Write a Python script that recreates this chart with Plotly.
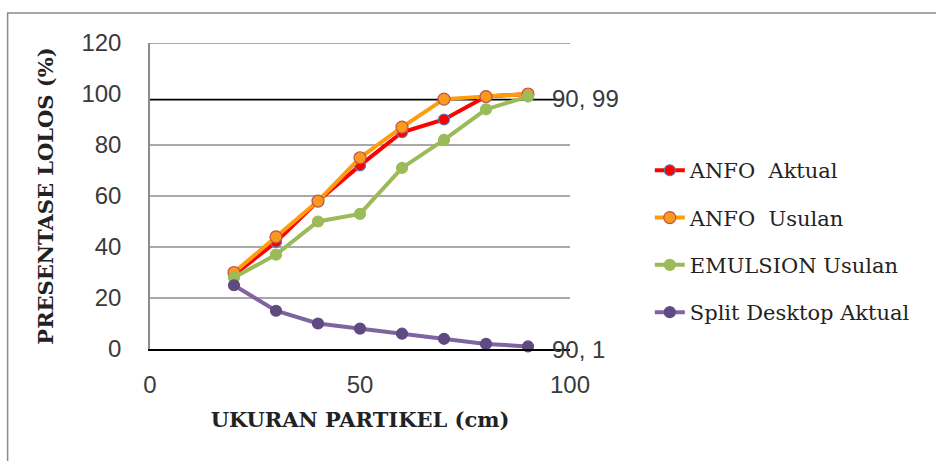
import plotly.graph_objects as go

# Particle size (cm) and cumulative percent passing for each blast design
ukuran = [20, 30, 40, 50, 60, 70, 80, 90]
anfo_aktual = [29, 42, 58, 72, 85, 90, 99, 100]
anfo_usulan = [30, 44, 58, 75, 87, 98, 99, 100]
emulsion_usulan = [28, 37, 50, 53, 71, 82, 94, 99]
split_desktop_aktual = [25, 15, 10, 8, 6, 4, 2, 1]

y_ticks = [0, 20, 40, 60, 80, 100, 120]
x_ticks = [0, 50, 100]
grid_levels = [20, 40, 60, 80, 120]
ref_level_top = 97.8

tick_font = dict(family="Liberation Sans", size=24, color="#3a3a3a")
serif = "DejaVu Serif"

fig = go.Figure()

series = [
    ("ANFO  Aktual", anfo_aktual, "#ff0000", "#ff0000", "#4f81bd", 11),
    ("ANFO  Usulan", anfo_usulan, "#ff9c0a", "#f79a1e", "#c0504d", 12),
    ("EMULSION Usulan", emulsion_usulan, "#9bbb59", "#9bbb59", "#9bbb59", 11),
    ("Split Desktop Aktual", split_desktop_aktual, "#8064a2", "#5f4a82", "#5f4a82", 11),
]
for i, (name, vals, lc, mc, oc, ms) in enumerate(series):
    fig.add_trace(go.Scatter(
        x=ukuran, y=vals, name=name, mode="lines+markers",
        legendgroup=f"g{i}",
        line=dict(color=lc, width=4),
        marker=dict(size=ms, color=mc, line=dict(color=oc, width=1.2)),
        cliponaxis=False,
    ))

# Horizontal gridlines (none drawn at 100)
for g in grid_levels:
    fig.add_shape(type="line", xref="x", yref="y", x0=0, x1=100, y0=g, y1=g,
                  line=dict(color="#8c8c8c", width=1.5), layer="below")

# Black reference line near the top plateau
fig.add_shape(type="line", xref="x", yref="y", x0=0, x1=98, y0=ref_level_top, y1=ref_level_top,
              line=dict(color="#000000", width=1.8), layer="below")

# Point labels for the last points
fig.add_annotation(x=ukuran[-1] + 5.2, y=ref_level_top + 0.3, xref="x", yref="y",
                   text=f"{ukuran[-1]}, {emulsion_usulan[-1]}", showarrow=False,
                   xanchor="left", yanchor="middle", font=tick_font)
fig.add_annotation(x=ukuran[-1] + 5.2, y=0, xref="x", yref="y",
                   text=f"{ukuran[-1]}, {split_desktop_aktual[-1]}", showarrow=False,
                   xanchor="left", yanchor="middle", font=tick_font)

# Outer chart border
fig.add_shape(type="rect", xref="paper", yref="paper",
              x0=-0.339, x1=1.9, y0=1.098, y1=-0.5,
              line=dict(color="#8a8a8a", width=1.5), fillcolor="rgba(0,0,0,0)")

fig.update_layout(
    width=936, height=461,
    margin=dict(l=150, r=366, t=43, b=112),
    paper_bgcolor="white", plot_bgcolor="white",
    showlegend=True,
    legend=dict(
        x=1.19, y=0.65, xanchor="left", yanchor="top",
        font=dict(family=serif, size=21, color="#222222"),
        tracegroupgap=17, bgcolor="rgba(0,0,0,0)",
    ),
    xaxis=dict(
        range=[0, 100], tickvals=x_ticks, showgrid=False, zeroline=False,
        showline=True, linecolor="#000000", linewidth=2,
        tickfont=tick_font, ticklabelstandoff=13,
        title=dict(text="<b>UKURAN PARTIKEL (cm)</b>",
                   font=dict(family=serif, size=21, color="#222222"), standoff=16),
    ),
    yaxis=dict(
        range=[0, 120], tickvals=y_ticks, showgrid=False, zeroline=False,
        showline=True, linecolor="#8c8c8c", linewidth=1.5,
        tickfont=tick_font, ticklabelstandoff=22,
        title=dict(text="<b>PRESENTASE LOLOS (%)</b>",
                   font=dict(family=serif, size=21, color="#222222"), standoff=22),
    ),
)

fig.write_html("out.html")
